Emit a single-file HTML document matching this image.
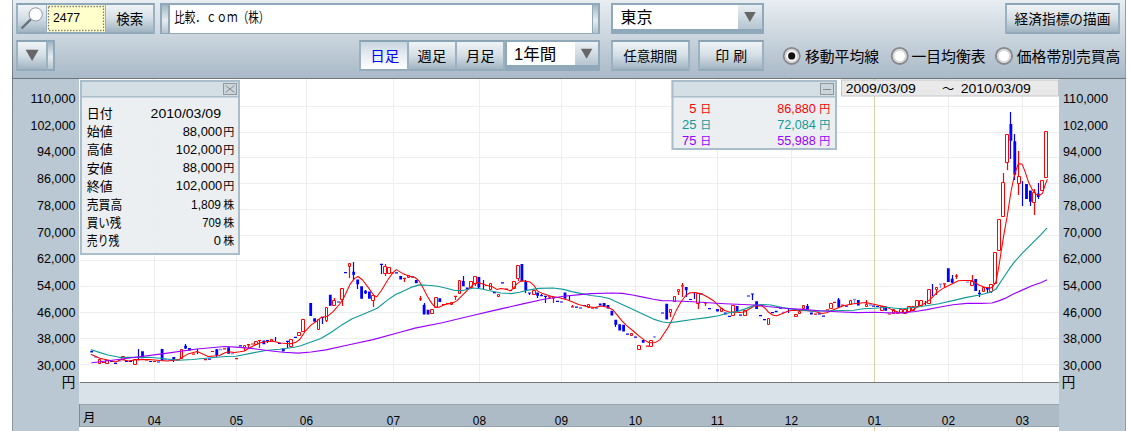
<!DOCTYPE html><html><head><meta charset="utf-8"><title>chart</title><style>
html,body{margin:0;padding:0;background:#fff;}
body{width:1130px;height:431px;overflow:hidden;position:relative;font-family:"Liberation Sans","Noto Sans CJK JP",sans-serif;}
div{position:absolute;box-sizing:border-box;}
#tb{left:12px;top:0;width:1114px;height:78px;background:linear-gradient(#e8eef2,#a9b9c7);}
.btn{background:linear-gradient(#f0f4f6 0%,#d4dee5 50%,#a1b4c2 100%);border:2px solid #9ab1c1;border-top-color:#8aa3b5;border-bottom-color:#93aabb;}
.sel{background:linear-gradient(#c9d6df 0%,#e6edf2 50%,#ffffff 100%);}
.grp{background:#8fa8ba;}
.lp{background:#b9c8d3;}
svg{position:absolute;left:0;top:0;}
text{font-family:"Liberation Sans","Noto Sans CJK JP",sans-serif;}
</style></head><body>
<div id="tb"></div>
<div class="grp" style="left:16px;top:3px;width:139px;height:31px"></div>
<div class="btn" style="left:16px;top:3px;width:32px;height:31px"></div>
<div style="left:47px;top:5px;width:58px;height:27px;background:#ffffcc"></div>
<div class="btn" style="left:105px;top:3px;width:50px;height:31px;border-left-width:1.5px"></div>
<div class="grp" style="left:160px;top:3px;width:440px;height:31px"></div>
<div style="left:162px;top:5px;width:6px;height:27.5px;background:linear-gradient(180deg,#a3b6c4 0%,#e6ecef 55%,#b3c4cf 100%)"></div>
<div style="left:169.5px;top:5px;width:422px;height:27.5px;background:#fff"></div>
<div style="left:593px;top:5px;width:5px;height:27.5px;background:linear-gradient(180deg,#a3b6c4 0%,#e6ecef 55%,#b3c4cf 100%)"></div>
<div class="grp" style="left:611px;top:3px;width:153px;height:31px"></div>
<div style="left:613px;top:5px;width:125px;height:24px;background:#fff"></div>
<div style="left:738px;top:5px;width:24px;height:24px;background:linear-gradient(#e9eff3,#b5c5d1)"></div>
<div class="btn" style="left:1005px;top:3px;width:115px;height:31px"></div>
<div class="grp" style="left:16px;top:40px;width:39px;height:31px"></div>
<div class="btn" style="left:16px;top:40px;width:32px;height:31px"></div>
<div style="left:47.5px;top:42px;width:5.5px;height:27px;background:linear-gradient(180deg,#a3b6c4 0%,#e6ecef 55%,#b3c4cf 100%)"></div>
<div class="grp" style="left:359px;top:40px;width:241px;height:31px"></div>
<div class="btn sel" style="left:359px;top:40px;width:50px;height:31px"></div>
<div class="btn" style="left:407px;top:40px;width:50px;height:31px"></div>
<div class="btn" style="left:455px;top:40px;width:50px;height:31px"></div>
<div style="left:506.5px;top:42px;width:68px;height:23px;background:#fff"></div>
<div style="left:574.5px;top:42px;width:23.5px;height:23px;background:linear-gradient(#eef2f5,#b5c5d1)"></div>
<div class="btn" style="left:611px;top:40px;width:79px;height:31px"></div>
<div class="btn" style="left:698px;top:40px;width:66px;height:31px"></div>
<div style="left:12px;top:78px;width:1114px;height:353px;background:#d9e2e9"></div>
<div class="lp" style="left:12px;top:78px;width:67px;height:353px"></div>
<div class="lp" style="left:1059px;top:78px;width:67px;height:353px"></div>
<div style="left:79px;top:78px;width:980px;height:304px;background:#fff"></div>
<div style="left:79px;top:427px;width:980px;height:4px;background:#fff"></div>
<div style="left:79px;top:404px;width:980px;height:23px;background:#adbbc7;border:1px solid #95a3af;border-left:1.5px solid #7f8a94;border-right:none"></div>
<div style="left:12px;top:0;width:1px;height:431px;background:linear-gradient(#a3adb5 0px,#747c83 78px,#7b858d 100px,#8d98a1 431px)"></div>
<div style="left:1125px;top:0;width:1px;height:431px;background:#939fa9"></div>
<svg width="1130" height="431" viewBox="0 0 1130 431">
<path d="M80 106.5H1059M80 132.5H1059M80 157.5H1059M80 183.5H1059M80 209.5H1059M80 235.5H1059M80 260.5H1059M80 286.5H1059M80 312.5H1059M80 338.5H1059M80 364.5H1059" stroke="#eeeeee" stroke-width="1" fill="none"/>
<path d="M874.5 78V382M874.5 427V431" stroke="#d9d0a3" stroke-width="1"/>
<path d="M154.5 78V382M154.5 427V431M236.5 78V382M236.5 427V431M306.5 78V382M306.5 427V431M393.5 78V382M393.5 427V431M479.5 78V382M479.5 427V431M561.5 78V382M561.5 427V431M635.5 78V382M635.5 427V431M717.5 78V382M717.5 427V431M791.5 78V382M791.5 427V431M948.5 78V382M948.5 427V431M1022.5 78V382M1022.5 427V431" stroke="#eeeeee" stroke-width="1" fill="none"/>
<path d="M90.3 350.8H93.1V352.6H90.3ZM137.2 359H140V360.2H137.2ZM141.1 351.2H143.9V358.2H141.1ZM160.7 349H163.5V360.4H160.7ZM172.4 357.1H175.2V359.7H172.4ZM184.2 345.8H187V348.6H184.2ZM188.1 348.1H190.9V350.6H188.1ZM215.4 349.3H218.2V354.9H215.4ZM227.2 347.2H230V353.7H227.2ZM262.4 340.5H265.2V344.2H262.4ZM281.9 348.4H284.7V351.5H281.9ZM309.3 303H312.1V316H309.3ZM313.2 318.3H316V321.7H313.2ZM328.9 294.7H331.7V305.7H328.9ZM352.3 271.7H355.1V274.8H352.3ZM356.3 279.6H359.1V284.2H356.3ZM360.2 286.3H363V298.8H360.2ZM364.1 290.8H366.9V293.6H364.1ZM368 291.5H370.8V298.8H368ZM399.3 275.9H402.1V279.6H399.3ZM414.9 280H417.7V283.2H414.9ZM422.7 304.7H425.5V314.5H422.7ZM426.7 309.7H429.5V314.5H426.7ZM438.4 298.2H441.2V302H438.4ZM461.9 281.1H464.7V286.3H461.9ZM465.8 287.4H468.6V289H465.8ZM477.5 276.9H480.3V287.4H477.5ZM520.5 264H523.3V281.1H520.5ZM524.4 282.1H527.2V290.5H524.4ZM536.2 292.6H539V295.7H536.2ZM540.1 294.9H542.9V296.3H540.1ZM563.6 292.6H566.4V298.8H563.6ZM598.8 303.4H601.6V305.5H598.8ZM602.7 303H605.5V306.5H602.7ZM606.6 305H609.4V308.6H606.6ZM610.5 310.7H613.3V315.5H610.5ZM614.4 319.7H617.2V324.7H614.4ZM618.3 324.3H621.1V330.5H618.3ZM622.2 324.7H625V331.6H622.2ZM641.8 339.9H644.6V342.7H641.8ZM665.3 303.8H668.1V319.5H665.3ZM684.8 287H687.6V290.3H684.8ZM716.1 309H718.9V311.4H716.1ZM723.9 312.5H726.7V314.6H723.9ZM735.7 306H738.5V310.9H735.7ZM755.2 301.2H758V308.9H755.2ZM774.8 310.8H777.6V312.3H774.8ZM806.1 305.9H808.9V309.4H806.1ZM810 312.6H812.8V314.6H810ZM837.4 299.5H840.2V307.6H837.4ZM856.9 300.1H859.7V305.6H856.9ZM884.3 306.5H887.1V310.8H884.3ZM946.9 268.2H949.7V282.1H946.9ZM950.8 278.7H953.6V282.8H950.8ZM974.3 278.9H977.1V290.9H974.3ZM986 287.7H988.8V289.5H986ZM1009.5 124.1H1012.3V140.8H1009.5ZM1013.4 141.2H1016.2V174.8H1013.4ZM1025.1 184.1H1027.9V199H1025.1ZM1029 190.6H1031.8V201.8H1029ZM1036.8 193.4H1039.6V197.1H1036.8Z" fill="#0000ff"/>
<path d="M110 361.5H113M114 363.3H117M125 361.3H128M129 361.3H132M138.5 349V360M149 361.5H152M157 362H160M173.5 357V362M185.5 344V349M197.5 349V354M208 359.2H211M216.5 349V357M239 345.8H242M266 340.5H269M267.5 340V343M275.5 337V341M278 343.4H281M286 341.4H289M287.5 341V348M294 337.4H297M321 317.4H324M322.5 317V324M337 302H340M344 272.7H347M353.5 262V280M357.5 280V289M365.5 290V294M380 264.4H383M381.5 264V274M395 272.8H398M411 276.9H414M424.5 303V314M463.5 276V286M478.5 277V289M483.5 280V289M493 292.6H496M501 282.8H504M525.5 280V293M528 293H531M529.5 293V295M537.5 293V298M541.5 294V296M544 296.3H547M545.5 296V303M556 301.3H559M560 302H563M569.5 296V300M575 307.2H578M579 308H582M583 305.5H586M595 308H598M615.5 320V327M626 334.1H629M634 337.2H637M661 313H664M686.5 287V297M689 299.5H692M694.5 292V299M700 294H703M708 308.6H711M728 316.3H731M739 315.1H742M747 296H750M751 294H754M752.5 294V300M759 315.7H762M763 319.6H766M771 312.6H774M779 308.2H782M788.5 309V313M807.5 304V309M818 313.8H821M822 316.1H825M838.5 298V308M845 306.2H848M872 306.2H875M876 306.5H879M925.5 301V305M932.5 284V296M952.5 275V283M978 293.3H981M979.5 290V297M987.5 288V293M1010.5 112V159M1014.5 134V180M1022.5 181V206M1030.5 191V206M1038.5 183V199" stroke="#0000ff" stroke-width="1.2" fill="none"/>
<path d="M94 357H97M118 361H121M164 359.5H167M168 359.8H171M219 349.5H222M231 353.7H234M653 336.8H656M654.5 336V338M782 312.3H785M853 299.5H856M854.5 300V304M869 305H872M939 284.2H942M940.5 284V288M966 282.1H969" stroke="#8a8aff" stroke-width="1.3" fill="none"/>
<path d="M102 362.5H105M145 360H148M153 361.5H156M176 359.9H179M192 354.1H195M204 359.7H207M211 351.5H214M223 348.8H226M235 358.7H238M244.5 347.5V351M247 344.7H250M248.5 345V348M251 344H254M258 340.5H261M259.5 340V348M326.5 320.5V322M334.5 298V300.5M342.5 299.5V306M349.5 266.5V278M373.5 300.5V307M385.5 264V266.5M385.5 273.5V276M391 272.8H394M403 278.4H406M404.5 278V282M419 298.8H422M420.5 296V301M442 304.7H445M446 303.5H449M454 296.3H457M455.5 296V300M475.5 283.5V286M485 285.5H488M505 289.2H508M509 290.5H512M518.5 278.5V281M548 296.8H551M549.5 297V299M552 297.8H555M553.5 298V303M571 306.8H574M572.5 305V307M591 308.2H594M646 346.2H649M670.5 312.5V317M678.5 291.5V295M681 285.9H684M682.5 283V297M698.5 303.5V309M704 303H707M705.5 303V306M721.5 311.5V312M814 314.2H817M826 309.9H829M833 302.4H836M841 305.2H844M866.5 300V304.5M888 314H891M896 313.1H899M936.5 289.5V295M943 283.9H946M944.5 284V288M955 276.2H958M956.5 274V279M972.5 275V281.5M991.5 291.5V293M1003.5 173V182.5M1007.5 162.5V170M1018.5 151V176.5M1018.5 183.5V195M1034.5 189V192.5M1034.5 202.5V215" stroke="#ff0000" stroke-width="1.2" fill="none"/>
<path d="M98.5 359.5H100.5V363.5H98.5ZM105.5 360.5H108.5V363.5H105.5ZM121.5 356.5H124.5V359.5H121.5ZM133.5 359.5H136.5V364.5H133.5ZM180.5 349.5H182.5V358.5H180.5ZM243.5 345.5H245.5V347.5H243.5ZM254.5 341.5H257.5V344.5H254.5ZM270.5 339.5H272.5V341.5H270.5ZM289.5 339.5H292.5V346.5H289.5ZM297.5 332.5H300.5V335.5H297.5ZM301.5 319.5H304.5V331.5H301.5ZM317.5 319.5H319.5V329.5H317.5ZM325.5 307.5H327.5V320.5H325.5ZM332.5 300.5H335.5V305.5H332.5ZM340.5 288.5H343.5V299.5H340.5ZM348.5 263.5H350.5V266.5H348.5ZM371.5 295.5H374.5V300.5H371.5ZM383.5 266.5H386.5V273.5H383.5ZM387.5 267.5H390.5V273.5H387.5ZM407.5 275.5H409.5V277.5H407.5ZM430.5 309.5H433.5V313.5H430.5ZM434.5 297.5H437.5V307.5H434.5ZM450.5 302.5H452.5V304.5H450.5ZM458.5 280.5H460.5V293.5H458.5ZM469.5 281.5H472.5V287.5H469.5ZM473.5 276.5H476.5V283.5H473.5ZM489.5 283.5H491.5V289.5H489.5ZM497.5 294.5H499.5V296.5H497.5ZM512.5 281.5H515.5V288.5H512.5ZM516.5 265.5H519.5V278.5H516.5ZM532.5 290.5H535.5V294.5H532.5ZM587.5 304.5H589.5V307.5H587.5ZM630.5 333.5H632.5V335.5H630.5ZM637.5 345.5H640.5V349.5H637.5ZM649.5 340.5H652.5V346.5H649.5ZM669.5 309.5H671.5V312.5H669.5ZM673.5 296.5H675.5V301.5H673.5ZM677.5 289.5H679.5V291.5H677.5ZM696.5 293.5H699.5V303.5H696.5ZM720.5 308.5H722.5V311.5H720.5ZM731.5 305.5H734.5V315.5H731.5ZM743.5 310.5H746.5V315.5H743.5ZM767.5 318.5H769.5V324.5H767.5ZM794.5 314.5H797.5V316.5H794.5ZM798.5 311.5H800.5V313.5H798.5ZM802.5 305.5H804.5V308.5H802.5ZM829.5 303.5H832.5V308.5H829.5ZM849.5 300.5H851.5V304.5H849.5ZM865.5 304.5H867.5V306.5H865.5ZM880.5 306.5H883.5V310.5H880.5ZM892.5 309.5H894.5V313.5H892.5ZM899.5 309.5H902.5V312.5H899.5ZM903.5 309.5H906.5V313.5H903.5ZM907.5 306.5H910.5V311.5H907.5ZM911.5 306.5H914.5V310.5H911.5ZM915.5 300.5H918.5V306.5H915.5ZM919.5 300.5H922.5V305.5H919.5ZM927.5 289.5H930.5V303.5H927.5ZM935.5 287.5H937.5V289.5H935.5ZM970.5 281.5H973.5V285.5H970.5ZM982.5 287.5H984.5V291.5H982.5ZM989.5 284.5H992.5V291.5H989.5ZM993.5 252.5H996.5V283.5H993.5ZM997.5 219.5H1000.5V250.5H997.5ZM1001.5 182.5H1004.5V216.5H1001.5ZM1005.5 134.5H1008.5V162.5H1005.5ZM1017.5 176.5H1020.5V183.5H1017.5ZM1032.5 192.5H1035.5V202.5H1032.5ZM1040.5 180.5H1043.5V190.5H1040.5ZM1044.5 131.5H1047.5V177.5H1044.5Z" stroke="#ff0000" stroke-width="1" fill="#fff"/>
<path d="M91.4 354.5L99.8 358.2L110.0 360.5L115.6 362.0L121.1 359.6L128.5 361.0L137.8 359.6L149.0 359.6L160.0 360.6L167.4 361.0L178.6 359.7L182.3 357.4L187.8 354.1L197.1 351.5L202.7 354.1L208.3 356.5L219.4 355.5L225.0 352.7L228.7 351.8L234.2 352.5L240.0 351.8L244.4 351.0L251.7 346.8L259.0 343.1L267.3 341.6L272.5 341.1L279.9 343.1L290.3 343.7L295.5 342.6L299.7 339.5L304.9 331.7L311.2 324.9L317.4 320.7L320.9 317.6L327.1 316.6L333.4 311.4L339.7 304.0L343.8 297.8L350.1 284.2L354.7 278.4L358.0 276.5L362.6 280.0L368.9 288.4L374.1 295.7L376.8 296.8L381.4 290.5L387.7 280.0L392.9 272.7L396.3 269.6L402.5 273.4L408.8 275.9L415.0 277.5L419.2 281.1L423.4 288.4L427.6 296.8L431.8 303.4L434.9 306.8L439.0 307.2L444.3 304.7L452.6 303.0L456.8 300.9L463.0 294.7L469.3 288.4L473.5 284.2L477.7 282.6L483.9 284.2L486.3 285.3L492.5 286.7L496.7 289.4L500.9 288.4L507.1 289.4L510.3 290.9L513.4 288.4L516.5 284.2L520.7 281.1L524.9 281.1L530.1 282.1L533.9 285.3L537.4 290.9L542.6 293.6L551.0 296.3L559.3 297.8L567.7 299.9L573.9 302.6L578.4 304.4L586.7 306.5L595.0 307.6L601.3 305.9L607.6 307.2L612.8 309.7L617.0 314.9L622.2 321.1L626.4 325.3L632.6 330.5L638.9 335.8L644.1 339.9L649.3 342.7L655.6 342.4L659.8 339.9L663.9 333.7L668.1 327.4L671.4 321.1L676.2 310.6L681.1 301.7L686.0 295.2L690.0 292.7L694.9 292.4L700.6 293.5L707.1 296.8L713.6 300.8L719.3 306.5L724.9 310.6L729.8 312.2L734.7 311.9L739.5 312.5L744.4 311.9L749.3 309.0L754.6 305.9L761.6 305.9L765.1 308.2L768.6 312.3L773.2 315.2L776.7 315.7L781.3 314.0L787.1 311.5L791.8 310.3L798.7 310.5L808.0 310.8L815.0 311.5L821.9 313.4L826.6 312.8L831.2 310.8L837.0 308.2L842.8 305.9L851.6 304.1L858.6 303.3L865.5 302.6L871.3 303.8L878.3 305.3L886.4 307.0L892.2 309.9L898.0 311.9L905.0 312.6L910.8 311.1L916.6 307.6L923.5 304.1L929.3 300.1L930.6 299.2L936.1 293.3L941.7 289.1L947.3 286.3L952.8 283.5L958.4 280.7L964.0 280.5L970.9 280.5L975.1 282.5L979.3 285.3L984.8 287.3L990.4 288.1L993.2 286.3L996.1 281.2L998.9 266.4L1001.7 247.8L1004.5 231.1L1007.3 215.7L1011.0 191.5L1014.7 173.9L1018.4 163.7L1022.1 164.1L1024.9 171.1L1028.6 182.3L1032.3 189.7L1036.0 194.3L1039.7 195.3L1042.5 193.4L1044.7 186.0L1047.2 179.6" stroke="#ff0000" stroke-width="1.05" fill="none" stroke-linejoin="round" stroke-linecap="round"/>
<path d="M91.4 349.7L100.0 352.6L108.0 355.0L119.3 357.3L130.4 357.3L149.0 357.3L160.0 358.3L178.6 360.2L192.5 359.5L211.0 357.8L225.0 356.5L236.0 356.2L251.7 353.1L267.3 350.2L279.9 349.2L294.5 347.3L300.7 345.8L310.4 342.3L320.9 338.5L331.3 332.2L341.8 324.9L352.2 318.7L362.6 314.5L377.2 308.2L387.7 299.9L396.0 294.2L400.4 292.6L410.9 287.4L419.2 284.9L427.6 285.3L438.0 286.3L448.5 288.8L454.7 290.5L463.0 290.5L473.5 288.0L481.9 289.0L488.4 290.5L500.9 293.0L511.3 293.6L519.7 292.2L528.0 290.1L538.5 288.4L553.1 288.0L563.5 289.4L571.9 291.6L580.4 293.4L590.9 295.5L601.3 296.7L609.7 298.8L622.2 304.4L632.6 309.2L643.1 314.3L653.5 319.1L661.9 321.8L668.1 322.8L676.2 321.9L692.5 319.5L708.7 317.4L718.4 315.8L728.2 313.0L737.9 311.4L746.0 308.6L754.2 305.4L761.6 304.5L770.9 305.0L782.5 307.6L796.4 309.6L813.8 311.1L831.2 310.8L853.9 310.3L863.2 308.8L874.8 308.2L886.4 307.3L895.7 308.2L902.6 308.8L911.9 307.6L921.2 306.5L932.8 304.7L938.9 303.7L952.8 300.6L966.7 297.4L980.7 294.7L990.4 292.3L996.0 289.1L998.0 285.9L1003.6 277.5L1009.1 269.2L1014.7 261.7L1022.1 253.4L1031.4 244.1L1040.7 234.8L1046.6 228.4" stroke="#119999" stroke-width="1.15" fill="none" stroke-linejoin="round" stroke-linecap="round"/>
<path d="M91.9 362.8L120.0 359.2L163.8 353.6L197.0 349.0L225.0 346.5L236.0 347.1L251.7 348.4L267.3 350.5L283.0 352.3L298.6 353.1L311.2 352.0L326.0 349.9L348.0 345.0L373.0 339.6L400.0 332.2L415.0 328.1L442.2 322.7L473.5 315.2L490.0 311.4L500.9 308.9L521.8 304.1L542.6 299.5L563.5 296.3L580.0 294.6L590.9 293.6L611.8 293.0L622.2 293.4L632.6 295.0L643.1 297.1L653.5 299.2L661.9 300.6L670.0 300.7L692.5 301.7L724.9 303.8L760.0 305.3L767.4 306.5L784.8 308.2L802.2 309.4L819.6 310.8L837.0 311.7L857.4 312.6L874.8 312.2L886.4 312.8L903.8 312.8L915.4 311.5L927.0 309.6L938.9 307.2L952.8 304.8L966.7 303.4L980.7 303.4L991.8 303.0L998.7 300.9L1005.0 298.4L1012.8 294.2L1022.1 290.1L1033.2 285.3L1040.7 282.7L1046.6 279.9" stroke="#9900ff" stroke-width="1.15" fill="none" stroke-linejoin="round" stroke-linecap="round"/>
<path d="M80 382.5H1059" stroke="#777" stroke-width="1"/>
<path d="M12 78.5H1126" stroke="#6f767c" stroke-width="1"/>
<text x="75.5" y="103.1" font-size="13" fill="#000" text-anchor="end" textLength="45.0" lengthAdjust="spacingAndGlyphs">110,000</text>
<text x="1063" y="103.1" font-size="13" fill="#000" text-anchor="start" textLength="45.0" lengthAdjust="spacingAndGlyphs">110,000</text>
<text x="75.5" y="129.8" font-size="13" fill="#000" text-anchor="end" textLength="45.0" lengthAdjust="spacingAndGlyphs">102,000</text>
<text x="1063" y="129.8" font-size="13" fill="#000" text-anchor="start" textLength="45.0" lengthAdjust="spacingAndGlyphs">102,000</text>
<text x="75.5" y="156.4" font-size="13" fill="#000" text-anchor="end" textLength="38.5" lengthAdjust="spacingAndGlyphs">94,000</text>
<text x="1063" y="156.4" font-size="13" fill="#000" text-anchor="start" textLength="38.5" lengthAdjust="spacingAndGlyphs">94,000</text>
<text x="75.5" y="183.1" font-size="13" fill="#000" text-anchor="end" textLength="38.5" lengthAdjust="spacingAndGlyphs">86,000</text>
<text x="1063" y="183.1" font-size="13" fill="#000" text-anchor="start" textLength="38.5" lengthAdjust="spacingAndGlyphs">86,000</text>
<text x="75.5" y="209.8" font-size="13" fill="#000" text-anchor="end" textLength="38.5" lengthAdjust="spacingAndGlyphs">78,000</text>
<text x="1063" y="209.8" font-size="13" fill="#000" text-anchor="start" textLength="38.5" lengthAdjust="spacingAndGlyphs">78,000</text>
<text x="75.5" y="236.5" font-size="13" fill="#000" text-anchor="end" textLength="38.5" lengthAdjust="spacingAndGlyphs">70,000</text>
<text x="1063" y="236.5" font-size="13" fill="#000" text-anchor="start" textLength="38.5" lengthAdjust="spacingAndGlyphs">70,000</text>
<text x="75.5" y="263.1" font-size="13" fill="#000" text-anchor="end" textLength="38.5" lengthAdjust="spacingAndGlyphs">62,000</text>
<text x="1063" y="263.1" font-size="13" fill="#000" text-anchor="start" textLength="38.5" lengthAdjust="spacingAndGlyphs">62,000</text>
<text x="75.5" y="289.8" font-size="13" fill="#000" text-anchor="end" textLength="38.5" lengthAdjust="spacingAndGlyphs">54,000</text>
<text x="1063" y="289.8" font-size="13" fill="#000" text-anchor="start" textLength="38.5" lengthAdjust="spacingAndGlyphs">54,000</text>
<text x="75.5" y="316.5" font-size="13" fill="#000" text-anchor="end" textLength="38.5" lengthAdjust="spacingAndGlyphs">46,000</text>
<text x="1063" y="316.5" font-size="13" fill="#000" text-anchor="start" textLength="38.5" lengthAdjust="spacingAndGlyphs">46,000</text>
<text x="75.5" y="343.1" font-size="13" fill="#000" text-anchor="end" textLength="38.5" lengthAdjust="spacingAndGlyphs">38,000</text>
<text x="1063" y="343.1" font-size="13" fill="#000" text-anchor="start" textLength="38.5" lengthAdjust="spacingAndGlyphs">38,000</text>
<text x="75.5" y="369.8" font-size="13" fill="#000" text-anchor="end" textLength="38.5" lengthAdjust="spacingAndGlyphs">30,000</text>
<text x="1063" y="369.8" font-size="13" fill="#000" text-anchor="start" textLength="38.5" lengthAdjust="spacingAndGlyphs">30,000</text>
<text x="61.7" y="387.3" font-size="13.5" fill="#000" textLength="13.5" lengthAdjust="spacingAndGlyphs">円</text>
<text x="1061.7" y="387.3" font-size="13.5" fill="#000" textLength="13.5" lengthAdjust="spacingAndGlyphs">円</text>
<text x="83" y="422" font-size="12.5" fill="#000" textLength="12.5" lengthAdjust="spacingAndGlyphs">月</text>
<text x="154.4" y="425" font-size="12.5" fill="#000" text-anchor="middle" textLength="13.2" lengthAdjust="spacingAndGlyphs">04</text>
<text x="236.4" y="425" font-size="12.5" fill="#000" text-anchor="middle" textLength="13.2" lengthAdjust="spacingAndGlyphs">05</text>
<text x="306.4" y="425" font-size="12.5" fill="#000" text-anchor="middle" textLength="13.2" lengthAdjust="spacingAndGlyphs">06</text>
<text x="393.4" y="425" font-size="12.5" fill="#000" text-anchor="middle" textLength="13.2" lengthAdjust="spacingAndGlyphs">07</text>
<text x="479.4" y="425" font-size="12.5" fill="#000" text-anchor="middle" textLength="13.2" lengthAdjust="spacingAndGlyphs">08</text>
<text x="561.4" y="425" font-size="12.5" fill="#000" text-anchor="middle" textLength="13.2" lengthAdjust="spacingAndGlyphs">09</text>
<text x="635.4" y="425" font-size="12.5" fill="#000" text-anchor="middle" textLength="13.2" lengthAdjust="spacingAndGlyphs">10</text>
<text x="717.4" y="425" font-size="12.5" fill="#000" text-anchor="middle" textLength="13.2" lengthAdjust="spacingAndGlyphs">11</text>
<text x="791.4" y="425" font-size="12.5" fill="#000" text-anchor="middle" textLength="13.2" lengthAdjust="spacingAndGlyphs">12</text>
<text x="874.4" y="425" font-size="12.5" fill="#000" text-anchor="middle" textLength="13.2" lengthAdjust="spacingAndGlyphs">01</text>
<text x="948.4" y="425" font-size="12.5" fill="#000" text-anchor="middle" textLength="13.2" lengthAdjust="spacingAndGlyphs">02</text>
<text x="1022.4" y="425" font-size="12.5" fill="#000" text-anchor="middle" textLength="13.2" lengthAdjust="spacingAndGlyphs">03</text>
<rect x="80" y="80" width="160" height="175" fill="#e9eef1" fill-opacity="0.93"/><rect x="80" y="80" width="160" height="17" fill="#d3dde4" fill-opacity="0.95"/><rect x="81" y="81" width="158" height="173" fill="none" stroke="#a9bdcb" stroke-width="2"/><path d="M80 96.8H240" stroke="#a9bdcb" stroke-width="1.5"/>
<rect x="223.5" y="83.5" width="13" height="11" fill="#cbd5dc" stroke="#90979d" stroke-width="1"/>
<path d="M225.5 85.5L234.5 92.5M234.5 85.5L225.5 92.5" stroke="#8d8a8a" stroke-width="1"/>
<text x="86.8" y="118.2" font-size="13" fill="#000" textLength="26.0" lengthAdjust="spacingAndGlyphs">日付</text>
<text x="150.6" y="117.8" font-size="13" fill="#000" text-anchor="start" textLength="70.4" lengthAdjust="spacingAndGlyphs">2010/03/09</text>
<text x="86.8" y="136.3" font-size="13" fill="#000" textLength="26.0" lengthAdjust="spacingAndGlyphs">始値</text>
<text x="222.2" y="136.1" font-size="13" fill="#000" text-anchor="end" textLength="39.5" lengthAdjust="spacingAndGlyphs">88,000</text>
<text x="223.2" y="136.1" font-size="11" fill="#000" textLength="11.0" lengthAdjust="spacingAndGlyphs">円</text>
<text x="86.8" y="154.4" font-size="13" fill="#000" textLength="26.0" lengthAdjust="spacingAndGlyphs">高値</text>
<text x="222.2" y="154.2" font-size="13" fill="#000" text-anchor="end" textLength="46.4" lengthAdjust="spacingAndGlyphs">102,000</text>
<text x="223.2" y="154.2" font-size="11" fill="#000" textLength="11.0" lengthAdjust="spacingAndGlyphs">円</text>
<text x="86.8" y="172.5" font-size="13" fill="#000" textLength="26.0" lengthAdjust="spacingAndGlyphs">安値</text>
<text x="222.2" y="172.3" font-size="13" fill="#000" text-anchor="end" textLength="39.5" lengthAdjust="spacingAndGlyphs">88,000</text>
<text x="223.2" y="172.3" font-size="11" fill="#000" textLength="11.0" lengthAdjust="spacingAndGlyphs">円</text>
<text x="86.8" y="190.6" font-size="13" fill="#000" textLength="26.0" lengthAdjust="spacingAndGlyphs">終値</text>
<text x="222.2" y="190.4" font-size="13" fill="#000" text-anchor="end" textLength="46.4" lengthAdjust="spacingAndGlyphs">102,000</text>
<text x="223.2" y="190.4" font-size="11" fill="#000" textLength="11.0" lengthAdjust="spacingAndGlyphs">円</text>
<text x="86.8" y="208.7" font-size="13" fill="#000" textLength="35.4" lengthAdjust="spacingAndGlyphs">売買高</text>
<text x="221" y="208.5" font-size="13" fill="#000" text-anchor="end" textLength="30" lengthAdjust="spacingAndGlyphs">1,809</text>
<text x="223.2" y="208.5" font-size="11" fill="#000" textLength="11.0" lengthAdjust="spacingAndGlyphs">株</text>
<text x="86.8" y="226.8" font-size="13" fill="#000" textLength="34.5" lengthAdjust="spacingAndGlyphs">買い残</text>
<text x="221" y="226.6" font-size="13" fill="#000" text-anchor="end" textLength="18.8" lengthAdjust="spacingAndGlyphs">709</text>
<text x="223.2" y="226.6" font-size="11" fill="#000" textLength="11.0" lengthAdjust="spacingAndGlyphs">株</text>
<text x="86.8" y="244.9" font-size="13" fill="#000" textLength="32.5" lengthAdjust="spacingAndGlyphs">売り残</text>
<text x="221" y="244.7" font-size="13" fill="#000" text-anchor="end" textLength="7.2" lengthAdjust="spacingAndGlyphs">0</text>
<text x="223.2" y="244.7" font-size="11" fill="#000" textLength="11.0" lengthAdjust="spacingAndGlyphs">株</text>
<rect x="671.5" y="80" width="165.5" height="70" fill="#e9eef1" fill-opacity="0.93"/><rect x="671.5" y="80" width="165.5" height="17" fill="#d3dde4" fill-opacity="0.95"/><rect x="672.5" y="81" width="163.5" height="68" fill="none" stroke="#a9bdcb" stroke-width="2"/><path d="M671.5 96.8H837" stroke="#a9bdcb" stroke-width="1.5"/>
<rect x="820.5" y="83.5" width="13" height="11" fill="#cbd5dc" stroke="#90979d" stroke-width="1"/>
<path d="M823 89.5H831" stroke="#8d8a8a" stroke-width="1"/>
<text x="696.5" y="113.1" font-size="13" fill="#ff0000" text-anchor="end">5</text>
<text x="700.2" y="113.3" font-size="11" fill="#ff0000" textLength="11.0" lengthAdjust="spacingAndGlyphs">日</text>
<text x="815.8" y="113.1" font-size="13" fill="#ff0000" text-anchor="end" textLength="38.6" lengthAdjust="spacingAndGlyphs">86,880</text>
<text x="819.3" y="113.3" font-size="11" fill="#ff0000" textLength="11.0" lengthAdjust="spacingAndGlyphs">円</text>
<text x="696.5" y="129.2" font-size="13" fill="#119999" text-anchor="end">25</text>
<text x="700.2" y="129.3" font-size="11" fill="#119999" textLength="11.0" lengthAdjust="spacingAndGlyphs">日</text>
<text x="815.8" y="129.2" font-size="13" fill="#119999" text-anchor="end" textLength="38.6" lengthAdjust="spacingAndGlyphs">72,084</text>
<text x="819.3" y="129.3" font-size="11" fill="#119999" textLength="11.0" lengthAdjust="spacingAndGlyphs">円</text>
<text x="696.5" y="145.2" font-size="13" fill="#9900ff" text-anchor="end">75</text>
<text x="700.2" y="145.4" font-size="11" fill="#9900ff" textLength="11.0" lengthAdjust="spacingAndGlyphs">日</text>
<text x="815.8" y="145.2" font-size="13" fill="#9900ff" text-anchor="end" textLength="38.6" lengthAdjust="spacingAndGlyphs">55,988</text>
<text x="819.3" y="145.4" font-size="11" fill="#9900ff" textLength="11.0" lengthAdjust="spacingAndGlyphs">円</text>
<rect x="841.5" y="80" width="217" height="16" fill="#e9e9e9" stroke="#c2c6c9" stroke-width="1"/>
<text x="845.7" y="93.3" font-size="13" fill="#000" text-anchor="start" textLength="70.2" lengthAdjust="spacingAndGlyphs">2009/03/09</text>
<text x="942" y="92.5" font-size="13" fill="#000" textLength="12.2" lengthAdjust="spacingAndGlyphs">～</text>
<text x="960.7" y="93.3" font-size="13" fill="#000" text-anchor="start" textLength="70.2" lengthAdjust="spacingAndGlyphs">2010/03/09</text>
<path d="M30.8 19.3L21.5 28.5" stroke="#66737d" stroke-width="2.4" fill="none"/>
<circle cx="35.7" cy="14.4" r="6.6" fill="#fff" stroke="#8a97a1" stroke-width="1"/>
<rect x="48.5" y="6.5" width="55" height="24" fill="none" stroke="#7a7a7a" stroke-width="1.3" stroke-dasharray="1.4 1.6"/>
<text x="52.9" y="22" font-size="13" fill="#000" text-anchor="start" textLength="27.3" lengthAdjust="spacingAndGlyphs">2477</text>
<text x="116.2" y="23.6" font-size="13.5" fill="#000" textLength="27.0" lengthAdjust="spacingAndGlyphs">検索</text>
<text x="174.2" y="21.8" font-size="14" fill="#000" textLength="95.2" lengthAdjust="spacingAndGlyphs">比較．ｃｏｍ（株）</text>
<text x="620.5" y="23" font-size="16" fill="#000" textLength="32.0" lengthAdjust="spacingAndGlyphs">東京</text>
<path d="M744.15 12.0H755.65L749.9 22.0Z" fill="#666"/>
<text x="1014.6" y="24" font-size="13.5" fill="#000" textLength="95.8" lengthAdjust="spacingAndGlyphs">経済指標の描画</text>
<path d="M25.6 49.699999999999996H38.6L32.1 60.9Z" fill="#666"/>
<text x="370.3" y="61.3" font-size="13.5" fill="#0000ff" textLength="29.0" lengthAdjust="spacingAndGlyphs">日足</text>
<text x="417.6" y="61.3" font-size="13.5" fill="#000" textLength="28.6" lengthAdjust="spacingAndGlyphs">週足</text>
<text x="465.7" y="61.3" font-size="13.5" fill="#000" textLength="29.0" lengthAdjust="spacingAndGlyphs">月足</text>
<text x="514" y="60" font-size="16" fill="#000" textLength="42.1" lengthAdjust="spacingAndGlyphs">1年間</text>
<path d="M580.85 48.8H592.35L586.6 58.8Z" fill="#666"/>
<text x="623.3" y="61.1" font-size="13.5" fill="#000" textLength="54.0" lengthAdjust="spacingAndGlyphs">任意期間</text>
<text x="715.3" y="61.1" font-size="13.5" fill="#000" textLength="31.8" lengthAdjust="spacingAndGlyphs">印 刷</text>
<circle cx="791.7" cy="55.9" r="8" fill="#fff" stroke="#85888b" stroke-width="2"/>
<circle cx="791.7" cy="55.9" r="6.2" fill="none" stroke="#d6d3d4" stroke-width="1.8"/>
<circle cx="899.7" cy="55.9" r="8" fill="#fff" stroke="#85888b" stroke-width="2"/>
<circle cx="899.7" cy="55.9" r="6.2" fill="none" stroke="#d6d3d4" stroke-width="1.8"/>
<circle cx="1004" cy="55.9" r="8" fill="#fff" stroke="#85888b" stroke-width="2"/>
<circle cx="1004" cy="55.9" r="6.2" fill="none" stroke="#d6d3d4" stroke-width="1.8"/>
<circle cx="791.7" cy="55.9" r="3.6" fill="#111"/>
<text x="805" y="61.5" font-size="14.8" fill="#000" textLength="74.0" lengthAdjust="spacingAndGlyphs">移動平均線</text>
<text x="911.5" y="61.5" font-size="14.8" fill="#000" textLength="74.0" lengthAdjust="spacingAndGlyphs">一目均衡表</text>
<text x="1016.8" y="61.5" font-size="14.8" fill="#000" textLength="103.6" lengthAdjust="spacingAndGlyphs">価格帯別売買高</text>
</svg>
</body></html>
